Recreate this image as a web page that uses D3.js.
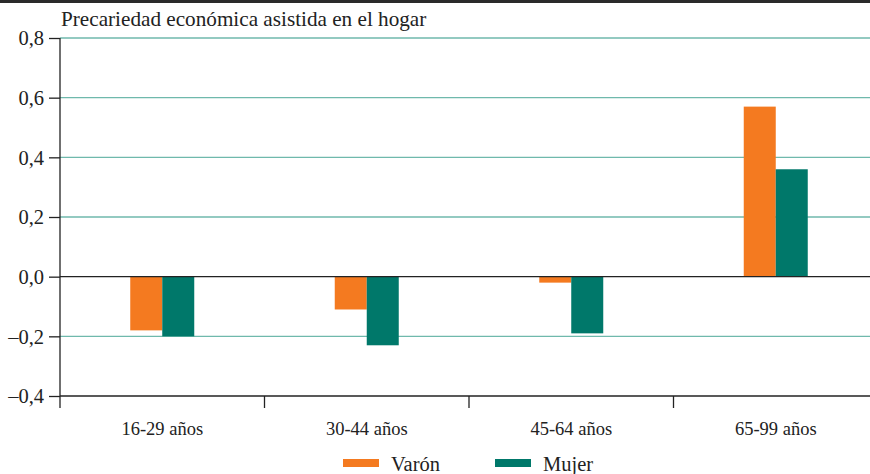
<!DOCTYPE html>
<html><head><meta charset="utf-8">
<script src="https://cdn.jsdelivr.net/npm/d3@7/dist/d3.min.js"></script>
<style>body{margin:0;background:#fff}svg{display:block}</style>
</head><body><svg id="c" width="870" height="474"></svg>
<script>
const categories = ["16-29 años","30-44 años","45-64 años","65-99 años"];
const seriesNames = ["Varón","Mujer"];
const varon = [-0.18,-0.11,-0.02,0.57];
const mujer = [-0.20,-0.23,-0.19,0.36];
const yTicks = [-0.4,-0.2,0,0.2,0.4,0.6,0.8];
const colors = ["#f47a20","#00786a"];
const title = "Precariedad económica asistida en el hogar";
const FONT = "Liberation Serif";

const svg = d3.select("#c");
const m = {left:60, top:38, bottom:396, right:878};
const y = d3.scaleLinear().domain([-0.4,0.8]).range([m.bottom,m.top]);
const x = d3.scaleBand().domain(categories).range([m.left,m.right]);
const fmt = v => (v<0?"\u2013":"") + Math.abs(v).toFixed(1).replace(".",",");

svg.append("rect").attr("x",0).attr("y",0).attr("width",870).attr("height",3).attr("fill","#2a2a2a");

// gridlines
svg.append("g").selectAll("line").data(yTicks.filter(v=>v!==-0.4 && v!==0)).join("line")
  .attr("x1",m.left).attr("x2",870).attr("y1",d=>y(d)).attr("y2",d=>y(d))
  .attr("stroke","#6fb9ac").attr("stroke-width",1.3);

// bars
const data = [varon, mujer];
const bw = 32;
data.forEach((vals,si)=>{
  svg.append("g").selectAll("rect").data(vals).join("rect")
    .attr("x",(d,i)=>x(categories[i])+x.bandwidth()/2 - bw + si*bw)
    .attr("width",bw)
    .attr("y",d=>y(Math.max(0,d)))
    .attr("height",d=>Math.abs(y(d)-y(0)))
    .attr("fill",colors[si]);
});

// zero line
svg.append("line").attr("x1",m.left).attr("x2",870).attr("y1",y(0)).attr("y2",y(0)).attr("stroke","#222").attr("stroke-width",1.3);

// y axis
const ya = d3.axisLeft(y).tickValues(yTicks).tickFormat(fmt).tickSize(11).tickPadding(5);
const gy = svg.append("g").attr("transform",`translate(${m.left},0)`).call(ya)
  .attr("font-family",FONT).attr("font-size",20.5);
gy.select(".domain").attr("stroke","#222").attr("stroke-width",1.3).attr("d",`M0,${m.top}V${m.bottom}`);
gy.selectAll(".tick line").attr("stroke","#222").attr("stroke-width",1.3);
gy.selectAll("text").attr("fill","#222").attr("dy","0.33em");

// x axis
const xa = d3.axisBottom(x).tickSize(0).tickPadding(0);
const gx = svg.append("g").attr("transform",`translate(0,${m.bottom})`).call(xa)
  .attr("font-family",FONT).attr("font-size",18.5);
gx.select(".domain").attr("stroke","#222").attr("stroke-width",1.3).attr("d",`M${m.left},0H870`);
gx.selectAll("text").attr("fill","#222").attr("y",39).attr("dy",0);
svg.append("g").selectAll("line").data(categories.map(c=>x(c))).join("line")
  .attr("x1",d=>d).attr("x2",d=>d).attr("y1",m.bottom).attr("y2",m.bottom+12)
  .attr("stroke","#222").attr("stroke-width",1.3);

// title
svg.append("text").attr("x",61).attr("y",26).attr("font-family",FONT).attr("font-size",21.2).attr("fill","#222").text(title);

// legend
const leg = svg.append("g").attr("font-family",FONT).attr("font-size",20.5);
const lx = [343,495];
seriesNames.forEach((n,i)=>{
  leg.append("rect").attr("x",lx[i]).attr("y",459).attr("width",36).attr("height",8).attr("fill",colors[i]);
  leg.append("text").attr("x",lx[i]+48).attr("y",471).attr("fill","#222").text(n);
});
</script></body></html>
